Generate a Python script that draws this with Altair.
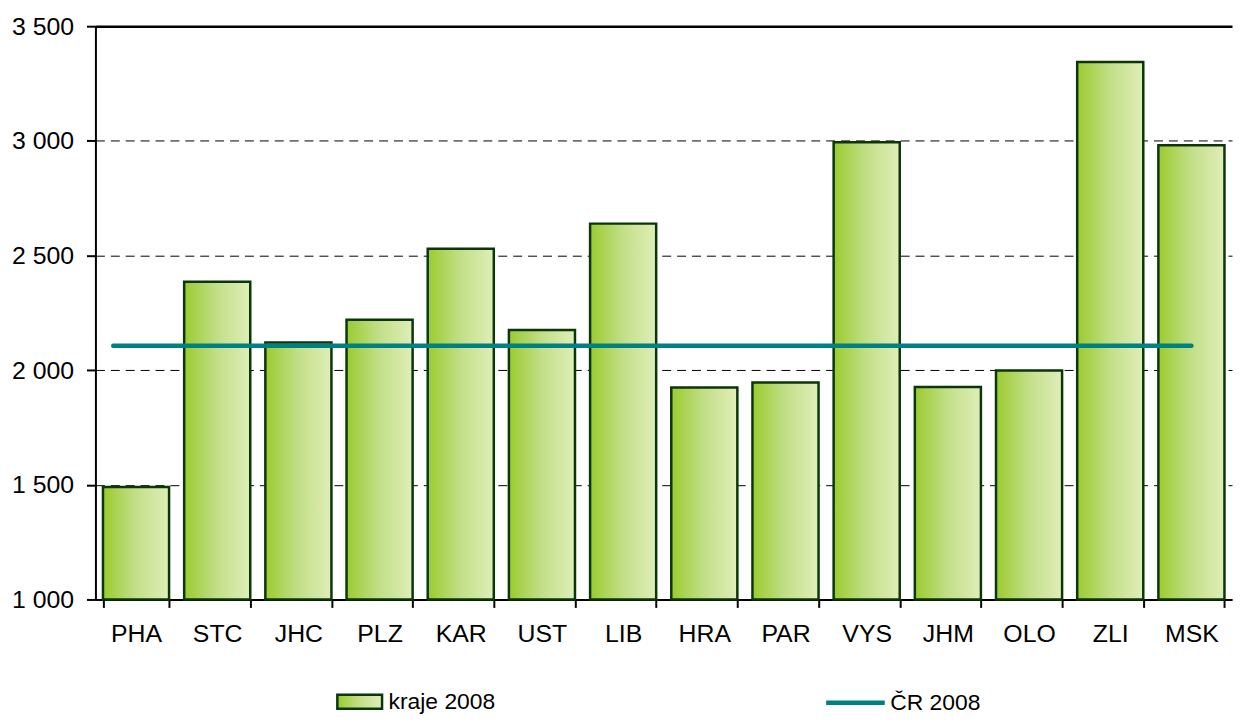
import altair as alt
import pandas as pd

categories = ["PHA", "STC", "JHC", "PLZ", "KAR", "UST", "LIB", "HRA", "PAR", "VYS", "JHM", "OLO", "ZLI", "MSK"]
kraje_2008 = [1490, 2386, 2121, 2220, 2529, 2175, 2639, 1924, 1946, 2994, 1927, 1998, 3344, 2981]
cr_2008 = 2106
y_ticks = [1000, 1500, 2000, 2500, 3000, 3500]

bars_df = pd.DataFrame({"kraj": categories, "value": kraje_2008, "serie": "kraje 2008"})
line_df = pd.DataFrame({"start": [categories[0]], "end": [categories[-1]], "value": [cr_2008], "serie": ["ČR 2008"]})

FONT = "Liberation Sans"

gradient = alt.Gradient(
    gradient="linear",
    stops=[
        alt.GradientStop(color="#9BCB2F", offset=0),
        alt.GradientStop(color="#C2DF88", offset=0.5),
        alt.GradientStop(color="#E0EEB8", offset=1),
    ],
    x1=0, x2=1, y1=0, y2=0,
)

x_scale = alt.Scale(domain=categories, paddingInner=0.186, paddingOuter=0.093)
y_scale = alt.Scale(domain=[1000, 3500], zero=False, nice=False)

bars = alt.Chart(bars_df).mark_bar(fill=gradient, strokeWidth=2.5).encode(
    x=alt.X("kraj:N", scale=x_scale, sort=categories,
            axis=alt.Axis(title=None, labelAngle=0, tickBand="extent", tickSize=8, tickWidth=2,
                          tickColor="black", domainColor="black", domainWidth=2,
                          labelFontSize=25, labelFont=FONT, labelColor="black", labelPadding=14)),
    y=alt.Y("value:Q", scale=y_scale,
            axis=alt.Axis(title=None, values=y_ticks, tickSize=9, tickWidth=2, tickColor="black",
                          domainColor="black", domainWidth=2, labelFontSize=25, labelFont=FONT,
                          labelColor="black", labelPadding=13,
                          labelExpr="replace(format(datum.value, ','), ',', ' ')",
                          grid=True, gridColor="#000",
                          gridDash={"condition": {"test": "datum.value === 3500", "value": []}, "value": [9, 6]},
                          gridWidth={"condition": {"test": "datum.value === 3500", "value": 2.5}, "value": 1})),
    y2=alt.datum(1000),
    stroke=alt.Stroke("serie:N", scale=alt.Scale(range=["#0A360A"]),
                      legend=alt.Legend(title=None, orient="none", legendX=242, legendY=656, padding=0,
                                        symbolType="M-1,-0.311H1V0.311H-1Z", symbolSize=2025,
                                        symbolStrokeWidth=2.5, labelFontSize=23, labelFont=FONT,
                                        labelColor="black", labelOffset=5)),
)

rule = alt.Chart(line_df).mark_rule(strokeWidth=4.5, strokeCap="round").encode(
    x=alt.X("start:N", scale=x_scale, bandPosition=0.155),
    x2=alt.X2("end:N", bandPosition=0.5),
    y=alt.Y("value:Q", scale=y_scale),
    color=alt.Color("serie:N", scale=alt.Scale(range=["#008080"]),
                    legend=alt.Legend(title=None, orient="none", legendX=733, legendY=649, padding=0,
                                      symbolType="stroke", symbolSize=3481, symbolStrokeWidth=4.5,
                                      symbolStrokeColor="#008080",
                                      labelFontSize=23, labelFont=FONT, labelColor="black", labelOffset=3)),
)

chart = alt.layer(bars, rule).resolve_scale(stroke="independent", color="independent").properties(
    width=1144, height=577,
    autosize=alt.AutoSizeParams(type="none"),
    padding={"left": 88, "top": 16, "right": 2, "bottom": 115},
    background="white",
).configure_view(stroke=None)

chart.save("out.html", embed_options={"renderer": "svg", "actions": False})
